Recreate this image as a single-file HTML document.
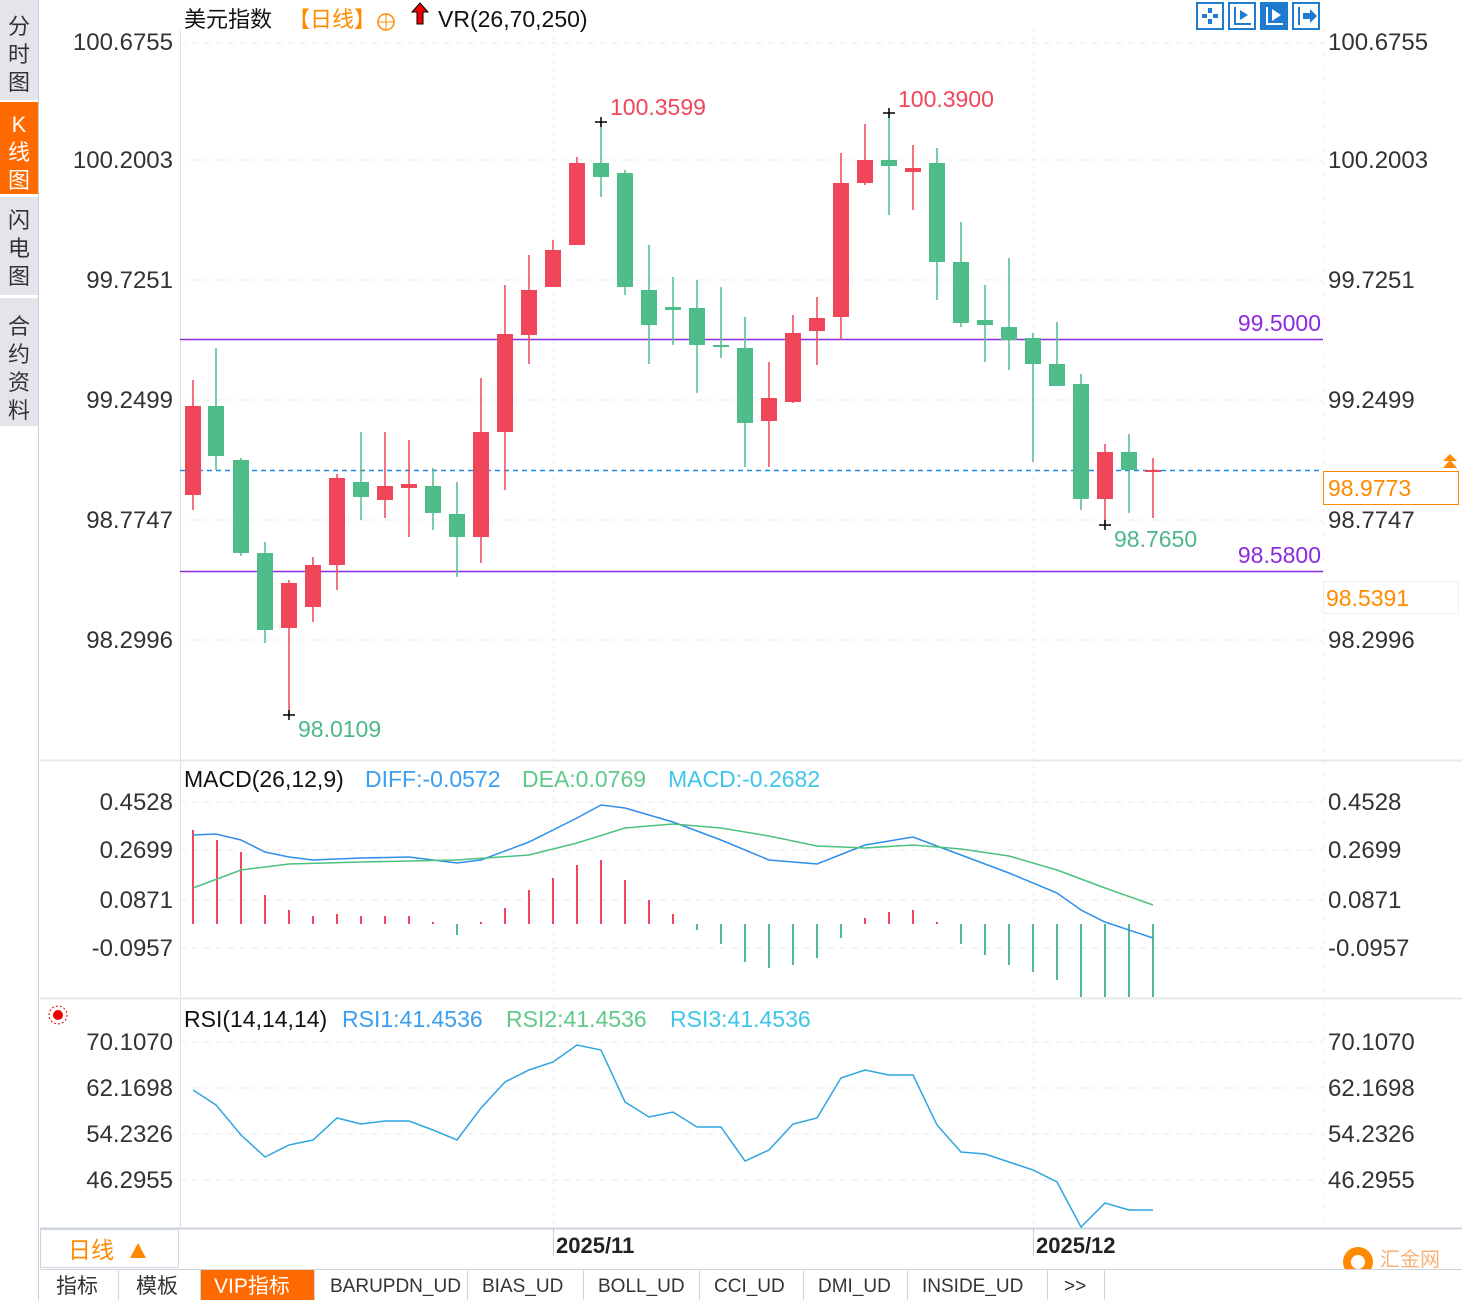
<!DOCTYPE html>
<html><head><meta charset="utf-8"><style>
html,body{margin:0;padding:0;background:#fff;width:1462px;height:1300px;overflow:hidden}
svg{display:block}
text{font-family:"Liberation Sans","Noto Sans CJK SC",sans-serif}
</style></head><body>
<svg id="s" width="1462" height="1300" xmlns="http://www.w3.org/2000/svg">
<rect x="0" y="0" width="38" height="1300" fill="#fff"/>
<rect x="0" y="0" width="38" height="100" fill="#e3e5ea"/>
<rect x="0" y="102" width="38" height="92" fill="#ff6a00"/>
<rect x="0" y="197" width="38" height="98" fill="#e3e5ea"/>
<rect x="0" y="298" width="38" height="128" fill="#e3e5ea"/>
<line x1="38.5" y1="0" x2="38.5" y2="1300" stroke="#c9ced6"/>
<g font-size="22" fill="#333" text-anchor="middle" font-family="Noto Sans CJK SC,sans-serif">
<text x="19" y="34">分</text><text x="19" y="62">时</text><text x="19" y="90">图</text>
<text x="19" y="132" fill="#fff">K</text><text x="19" y="160" fill="#fff">线</text><text x="19" y="188" fill="#fff">图</text>
<text x="19" y="228">闪</text><text x="19" y="256">电</text><text x="19" y="284">图</text>
<text x="19" y="334">合</text><text x="19" y="362">约</text><text x="19" y="390">资</text><text x="19" y="418">料</text>
</g>
<line x1="180.5" y1="30" x2="180.5" y2="1228" stroke="#dde2e8"/>
<line x1="1323.5" y1="30" x2="1323.5" y2="1228" stroke="#dde2e8" stroke-dasharray="2,10"/>
<line x1="40" y1="760.5" x2="1462" y2="760.5" stroke="#e4e8ee" stroke-width="2"/>
<line x1="40" y1="998.5" x2="1462" y2="998.5" stroke="#e4e8ee" stroke-width="2"/>
<line x1="40" y1="1228.5" x2="1462" y2="1228.5" stroke="#cfd5dd" stroke-width="2"/>
<line x1="553.5" y1="30" x2="553.5" y2="1228" stroke="#e3e7ec" stroke-dasharray="2,6"/>
<line x1="1033.5" y1="30" x2="1033.5" y2="1228" stroke="#e3e7ec" stroke-dasharray="2,6"/>
<g stroke="#e6e9ee" stroke-dasharray="6,6">
<line x1="180" y1="43" x2="1323" y2="43"/><line x1="180" y1="160" x2="1323" y2="160"/><line x1="180" y1="280" x2="1323" y2="280"/><line x1="180" y1="400" x2="1323" y2="400"/><line x1="180" y1="520" x2="1323" y2="520"/><line x1="180" y1="640" x2="1323" y2="640"/>
<line x1="180" y1="802" x2="1323" y2="802"/><line x1="180" y1="850" x2="1323" y2="850"/><line x1="180" y1="900" x2="1323" y2="900"/><line x1="180" y1="948" x2="1323" y2="948"/>
<line x1="180" y1="1042" x2="1323" y2="1042"/><line x1="180" y1="1088" x2="1323" y2="1088"/><line x1="180" y1="1134" x2="1323" y2="1134"/><line x1="180" y1="1180" x2="1323" y2="1180"/>
</g>
<text x="184" y="27" font-size="22" fill="#111">美元指数</text>
<text x="288" y="27" font-size="22" fill="#ff8a00">【日线】</text>
<circle cx="386" cy="22" r="8" fill="none" stroke="#ff8a00" stroke-width="1.5"/><line x1="378" y1="22" x2="394" y2="22" stroke="#ff8a00"/><line x1="386" y1="14" x2="386" y2="30" stroke="#ff8a00"/>
<path d="M420 3 L428 12 L423 12 L423 24 L417 24 L417 12 L412 12 Z" fill="#e00" stroke="#000" stroke-width="1"/>
<text x="438" y="27" font-size="23" fill="#111">VR(26,70,250)</text>
<g fill="none" stroke="#1e7bd0" stroke-width="2">
<rect x="1197" y="3" width="26" height="26"/><rect x="1229" y="3" width="26" height="26"/><rect x="1293" y="3" width="26" height="26"/>
</g>
<rect x="1260" y="2" width="28" height="28" fill="#1e7bd0"/>
<g fill="#1e7bd0"><rect x="1208" y="8" width="4" height="5"/><rect x="1208" y="19" width="4" height="5"/><rect x="1202" y="14" width="5" height="4"/><rect x="1213" y="14" width="5" height="4"/>
<rect x="1234" y="7" width="2" height="18"/><rect x="1234" y="23" width="17" height="2"/><path d="M1240 10 l0 10 l8 -5z"/>
<rect x="1298" y="7" width="2" height="18"/><path d="M1303 13 h7 v-4 l7 7 l-7 7 v-4 h-7z"/></g>
<g fill="#fff"><rect x="1266" y="7" width="2" height="18"/><rect x="1266" y="23" width="17" height="2"/><path d="M1272 9 l0 12 l9 -6z"/></g>
<g font-size="24" fill="#333">
<g text-anchor="end"><text x="173" y="50">100.6755</text><text x="173" y="168">100.2003</text><text x="173" y="288">99.7251</text><text x="173" y="408">99.2499</text><text x="173" y="528">98.7747</text><text x="173" y="648">98.2996</text>
<text x="173" y="810">0.4528</text><text x="173" y="858">0.2699</text><text x="173" y="908">0.0871</text><text x="173" y="956">-0.0957</text>
<text x="173" y="1050">70.1070</text><text x="173" y="1096">62.1698</text><text x="173" y="1142">54.2326</text><text x="173" y="1188">46.2955</text></g>
<text x="1328" y="50">100.6755</text><text x="1328" y="168">100.2003</text><text x="1328" y="288">99.7251</text><text x="1328" y="408">99.2499</text><text x="1328" y="528">98.7747</text><text x="1328" y="648">98.2996</text>
<text x="1328" y="810">0.4528</text><text x="1328" y="858">0.2699</text><text x="1328" y="908">0.0871</text><text x="1328" y="956">-0.0957</text>
<text x="1328" y="1050">70.1070</text><text x="1328" y="1096">62.1698</text><text x="1328" y="1142">54.2326</text><text x="1328" y="1188">46.2955</text>
</g>
<line x1="180" y1="339.5" x2="1323" y2="339.5" stroke="#8a2be2" stroke-width="1.5"/>
<line x1="180" y1="571.5" x2="1323" y2="571.5" stroke="#8a2be2" stroke-width="1.5"/>
<line x1="180" y1="470.5" x2="1323" y2="470.5" stroke="#1e88e5" stroke-width="1.5" stroke-dasharray="5,4"/>
<text x="1321" y="331" font-size="23" fill="#8a2be2" text-anchor="end">99.5000</text>
<text x="1321" y="563" font-size="23" fill="#8a2be2" text-anchor="end">98.5800</text>
<rect x="1323.5" y="471.5" width="135" height="33" fill="#fff" stroke="#ff8a00"/>
<text x="1328" y="496" font-size="23" fill="#ff8a00">98.9773</text>
<path d="M1443 468 l7 -8 l7 8z M1443 461 l7 -7 l7 7z" fill="#ff8a00"/>
<rect x="1323.5" y="581.5" width="135" height="32" fill="#fff" stroke="#eee"/>
<text x="1326" y="606" font-size="23" fill="#ff8a00">98.5391</text>
<g id="cand"></g>
<text x="610" y="115" font-size="23" fill="#f0465a">100.3599</text>
<text x="898" y="107" font-size="23" fill="#f0465a">100.3900</text>
<text x="298" y="737" font-size="23" fill="#4cb88a">98.0109</text>
<text x="1114" y="547" font-size="23" fill="#4cb88a">98.7650</text>
<text x="184" y="787" font-size="23" fill="#111">MACD(26,12,9)</text>
<text x="365" y="787" font-size="23" fill="#3a9ff0">DIFF:-0.0572</text>
<text x="522" y="787" font-size="23" fill="#5fc98a">DEA:0.0769</text>
<text x="668" y="787" font-size="23" fill="#3ec6e8">MACD:-0.2682</text>
<g id="macd"></g>
<circle cx="58" cy="1015" r="5" fill="#e00"/><circle cx="58" cy="1015" r="9" fill="none" stroke="#e00" stroke-dasharray="2,2"/>
<text x="184" y="1027" font-size="23" fill="#111">RSI(14,14,14)</text>
<text x="342" y="1027" font-size="23" fill="#3a9ff0">RSI1:41.4536</text>
<text x="506" y="1027" font-size="23" fill="#5fc98a">RSI2:41.4536</text>
<text x="670" y="1027" font-size="23" fill="#3ec6e8">RSI3:41.4536</text>
<g id="rsi"></g>
<line x1="553.5" y1="1228" x2="553.5" y2="1256" stroke="#ccc"/><line x1="1033.5" y1="1228" x2="1033.5" y2="1256" stroke="#ccc"/>
<text x="556" y="1253" font-size="22" font-weight="bold" fill="#222">2025/11</text>
<text x="1036" y="1253" font-size="22" font-weight="bold" fill="#222">2025/12</text>
<rect x="40.5" y="1229.5" width="138" height="38" fill="#fff" stroke="#cfd5dd"/>
<text x="68" y="1258" font-size="23" fill="#ff8a00" font-family="Noto Sans CJK SC,sans-serif">日线</text>
<path d="M130 1258 l8 -15 l8 15z" fill="#ff8a00"/>
<circle cx="1358" cy="1262" r="15" fill="#ff8a00"/><circle cx="1358" cy="1262" r="7" fill="#fff"/>
<text x="1380" y="1266" font-size="20" fill="#f6b27a" font-family="Noto Sans CJK SC,sans-serif">汇金网</text>
<rect x="40" y="1269" width="1422" height="31" fill="#fff"/>
<line x1="40" y1="1269.5" x2="1462" y2="1269.5" stroke="#cfd5dd"/>
<rect x="201" y="1270" width="113" height="30" fill="#ff6a00"/>
<g stroke="#cfd5dd"><line x1="118.5" y1="1270" x2="118.5" y2="1300"/><line x1="200.5" y1="1270" x2="200.5" y2="1300"/><line x1="314.5" y1="1270" x2="314.5" y2="1300"/><line x1="467.5" y1="1270" x2="467.5" y2="1300"/><line x1="583.5" y1="1270" x2="583.5" y2="1300"/><line x1="699.5" y1="1270" x2="699.5" y2="1300"/><line x1="803.5" y1="1270" x2="803.5" y2="1300"/><line x1="907.5" y1="1270" x2="907.5" y2="1300"/><line x1="1047.5" y1="1270" x2="1047.5" y2="1300"/><line x1="1104.5" y1="1270" x2="1104.5" y2="1300"/></g>
<g font-size="21" fill="#333" font-family="Liberation Mono,Noto Sans CJK SC,monospace">
<text x="56" y="1293">指标</text><text x="136" y="1293">模板</text><text x="214" y="1293" fill="#fff">VIP指标</text>
<text x="330" y="1292" font-size="19">BARUPDN_UD</text><text x="482" y="1292" font-size="19">BIAS_UD</text><text x="598" y="1292" font-size="19">BOLL_UD</text><text x="714" y="1292" font-size="19">CCI_UD</text><text x="818" y="1292" font-size="19">DMI_UD</text><text x="922" y="1292" font-size="19">INSIDE_UD</text><text x="1064" y="1292" font-size="19">&gt;&gt;</text>
</g>
</svg>
<script>
var NS="http://www.w3.org/2000/svg";
function el(p,t,a){var e=document.createElementNS(NS,t);for(var k in a)e.setAttribute(k,a[k]);p.appendChild(e);return e;}
var R="#f0465a",G="#4fbd8a";
var C=[[193,'r',406,495,380,510],[216,'g',406,456,348,470],[241,'g',460,553,458,556],[265,'g',553,630,542,643],[289,'r',583,628,580,715],[313,'r',565,607,557,622],[337,'r',478,565,474,590],[361,'g',482,497,432,520],[385,'r',486,500,432,518],[409,'r',484,488,440,537],[433,'g',486,513,468,530],[457,'g',514,537,482,577],[481,'r',432,537,378,563],[505,'r',334,432,285,490],[529,'r',290,335,255,364],[553,'r',250,287,240,287],[577,'r',163,245,157,245],[601,'g',163,177,122,197],[625,'g',173,287,170,295],[649,'g',290,325,245,364],[673,'g',307,310,277,345],[697,'g',308,345,280,393],[721,'g',345,347,287,358],[745,'g',348,423,317,467],[769,'r',398,421,362,467],[793,'r',333,402,315,403],[817,'r',318,331,297,365],[841,'r',183,317,153,340],[865,'r',160,183,124,185],[889,'g',160,166,113,215],[913,'r',168,172,145,210],[937,'g',163,262,148,300],[961,'g',262,323,222,327],[985,'g',320,325,285,362],[1009,'g',327,340,258,370],[1033,'g',338,364,333,462],[1057,'g',364,386,322,386],[1081,'g',384,499,374,510],[1105,'r',452,499,444,525],[1129,'g',452,470,434,513],[1153,'r',470,472,458,518]];
var g=document.getElementById('cand');
C.forEach(function(c){var col=c[1]=='r'?R:G;el(g,'line',{x1:c[0],x2:c[0],y1:c[4],y2:c[5],stroke:col,'stroke-width':1.5});el(g,'rect',{x:c[0]-8,y:c[2],width:16,height:Math.max(2,c[3]-c[2]),fill:col});});
[[601,122],[889,113],[289,715],[1105,525]].forEach(function(m){el(g,'line',{x1:m[0]-6,x2:m[0]+6,y1:m[1],y2:m[1],stroke:'#000','stroke-width':1.5});el(g,'line',{x1:m[0],x2:m[0],y1:m[1]-5,y2:m[1]+5,stroke:'#000','stroke-width':1.5});});
var H=[830,840,852,895,910,916,914,916,916,916,922,935,922,908,890,878,865,860,880,900,914,930,944,962,968,965,958,938,918,912,910,922,944,955,965,972,980,997,997,997,997];
var m=document.getElementById('macd');
H.forEach(function(h,i){var x=193+i*24;el(m,'line',{x1:x,x2:x,y1:924,y2:h,stroke:h<924?R:G,'stroke-width':2});});
function pl(p,pts,col){el(p,'polyline',{points:pts,fill:'none',stroke:col,'stroke-width':1.5});}
pl(m,"193,835 216,834 241,840 265,852 289,857 313,860 361,858 409,857 457,863 481,860 529,842 577,818 601,805 625,808 673,822 721,840 769,860 817,864 865,845 913,837 961,855 1009,873 1057,893 1081,910 1105,922 1153,938","#2f8fe8");
pl(m,"193,888 241,870 289,864 361,862 457,860 529,855 577,843 625,828 673,824 721,828 769,836 817,846 865,848 913,845 961,849 1009,856 1057,870 1105,888 1153,905","#4cc27f");
var r=document.getElementById('rsi');
pl(r,"193,1090 216,1105 241,1135 265,1157 289,1145 313,1140 337,1118 361,1124 385,1121 409,1121 433,1130 457,1140 481,1108 505,1082 529,1070 553,1062 577,1045 601,1050 625,1102 649,1117 673,1112 697,1127 721,1127 745,1161 769,1150 793,1124 817,1118 841,1078 865,1070 889,1075 913,1075 937,1125 961,1152 985,1154 1009,1162 1033,1170 1057,1182 1081,1227 1105,1203 1129,1210 1153,1210","#2fa6e0");
</script>
</body></html>
